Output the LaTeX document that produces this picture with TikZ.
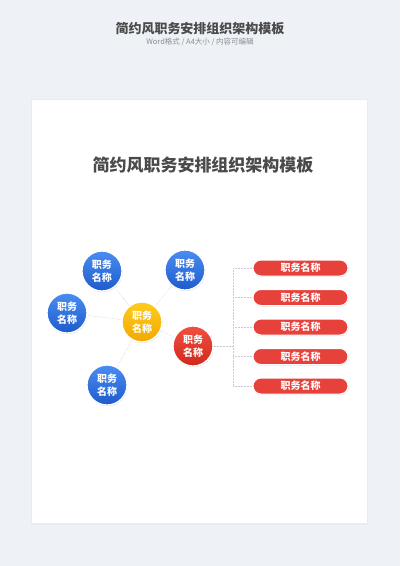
\documentclass[tikz,border=0pt]{standalone}
\usepackage{fontspec}
\setmainfont{Noto Sans CJK SC}
\usetikzlibrary{positioning, shadows}

\definecolor{pagebg}{HTML}{EEF1F5}
\definecolor{titlegray}{HTML}{4A4A4A}
\definecolor{subgray}{HTML}{8A8F96}
\definecolor{blueTop}{HTML}{4A8DF2}
\definecolor{blueBot}{HTML}{1E5BCB}
\definecolor{yellowTop}{HTML}{FFCB1F}
\definecolor{yellowBot}{HTML}{F2A900}
\definecolor{redTop}{HTML}{F2503F}
\definecolor{redBot}{HTML}{D0281E}
\definecolor{pillred}{HTML}{E6413A}

\begin{document}
\begin{tikzpicture}[
            x = 1pt, y = -1pt,
            post/.style = {circle, minimum size=40pt, inner sep=0pt, draw=white, line width=1.3pt,
                           text=white, align=center, font=\bfseries\fontsize{10}{12.5}\selectfont,
                           drop shadow={opacity=0.22, shadow xshift=0.6pt, shadow yshift=-1.2pt}},
            bluepost/.style = {post, top color=blueTop, bottom color=blueBot},
            yellowpost/.style = {post, top color=yellowTop, bottom color=yellowBot},
            redpost/.style = {post, top color=redTop, bottom color=redBot},
            pill/.style = {rounded corners=8pt, minimum width=95pt, minimum height=16pt, inner sep=0pt,
                           fill=pillred, draw=white, line width=1pt, text=white,
                           font=\bfseries\fontsize{10}{11}\selectfont,
                           drop shadow={opacity=0.2, shadow xshift=0.6pt, shadow yshift=-1.2pt}},
            link/.style = {draw=gray!40, densely dotted, line width=0.5pt}
        ]

            % Page and card
            \useasboundingbox (0,0) rectangle (400,566);
            \fill[pagebg] (0,0) rectangle (400,566);
            \fill[black, opacity=0.025] (31,99) rectangle (368,525);
            \fill[white] (32,100) rectangle (367,523);

            % Headings
            \node[font=\bfseries\fontsize{13}{15}\selectfont, text=titlegray] (head) at (200,29) {简约风职务安排组织架构模板};
            \node[font=\fontsize{7.5}{9}\selectfont, text=subgray] (sub) at (200,42) {Word格式 / A4大小 / 内容可编辑};
            \node[font=\bfseries\fontsize{17}{20}\selectfont, text=titlegray] (title) at (203,165) {简约风职务安排组织架构模板};

            % Posts
            \coordinate (jx) at (233,346);
            \node[yellowpost] (core) at (142,322) {职务\\名称};
            \node[bluepost] (tl) at (102,271) {职务\\名称};
            \node[bluepost] (tr) at (185,270) {职务\\名称};
            \node[bluepost] (lf) at (67,313) {职务\\名称};
            \node[bluepost] (bt) at (107,385) {职务\\名称};
            \node[redpost] (rd) at (193,346) {职务\\名称};

            % Sub posts
            \node[pill] (p1) at (300.5,268) {职务名称};
            \node[pill] (p2) at (300.5,297.5) {职务名称};
            \node[pill] (p3) at (300.5,327) {职务名称};
            \node[pill] (p4) at (300.5,356.5) {职务名称};
            \node[pill] (p5) at (300.5,386) {职务名称};

            % Links from the core
            \path[link] (core) -- (tl);
            \path[link] (core) -- (tr);
            \path[link] (core) -- (lf);
            \path[link] (core) -- (bt);
            \path[link] (core) -- (rd);

            % Links to the sub posts
            \path[link] (rd.east) -- (jx);
            \path[link] (p1.west -| jx) -- (p5.west -| jx);
            \path[link] (p1.west -| jx) -- (p1.west);
            \path[link] (p2.west -| jx) -- (p2.west);
            \path[link] (p3.west -| jx) -- (p3.west);
            \path[link] (p4.west -| jx) -- (p4.west);
            \path[link] (p5.west -| jx) -- (p5.west);

        \end{tikzpicture}
\end{document}
